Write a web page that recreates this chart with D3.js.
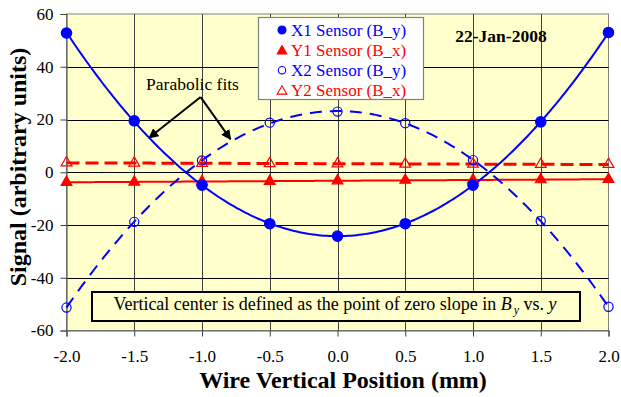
<!DOCTYPE html>
<html>
<head>
<meta charset="utf-8">
<script src="https://cdn.jsdelivr.net/npm/d3@7"></script>
<style>
body { margin: 0; background: #fff; }
text { font-family: "Liberation Serif", "Times New Roman", serif; }
</style>
</head>
<body>
<script>
//Data
var positions = [-2.0, -1.5, -1.0, -0.5, 0.0, 0.5, 1.0, 1.5, 2.0];
var x1Sensor  = [52.8, 19.5, -4.9, -19.5, -24.2, -19.5, -4.9, 19.1, 53.0];
var y1Sensor  = [-3.8, -3.7, -3.5, -3.4, -3.2, -3.0, -2.9, -2.8, -2.7];
var x2Sensor  = [-51.3, -18.8, 4.5, 18.8, 23.0, 18.6, 4.6, -18.5, -51.0];
var y2Sensor  = [3.6, 3.5, 3.4, 3.3, 3.2, 3.1, 3.1, 3.0, 3.0];
var seriesNames = ["X1 Sensor (B_y)", "Y1 Sensor (B_x)", "X2 Sensor (B_y)", "Y2 Sensor (B_x)"];
var xTicks = [-2.0, -1.5, -1.0, -0.5, 0.0, 0.5, 1.0, 1.5, 2.0];
var yTicks = [-60, -40, -20, 0, 20, 40, 60];

//Graphics constants
var width = 621, height = 397;
var plotLeft = 66.5, plotRight = 608.5, plotTop = 14, plotBottom = 330.5;
var blue = "#0000ff", red = "#ff0000", plotFill = "#ffffcc";

var x = d3.scaleLinear().domain([-2, 2]).range([plotLeft, plotRight]);
var y = d3.scaleLinear().domain([-60, 60]).range([plotBottom, plotTop]);

//Least squares polynomial fit (degree 1 or 2), returns the fitted function
function polyFit(xs, ys, deg)
{
    var n = deg + 1;
    var A = [], b = [];
    for (var i = 0; i < n; i++) {
        A.push([]);
        for (var j = 0; j < n; j++)
            A[i].push(d3.sum(xs, function(v) { return Math.pow(v, i + j); }));
        b.push(d3.sum(xs, function(v, k) { return Math.pow(v, i) * ys[k]; }));
    }
    //Gaussian elimination
    for (var c = 0; c < n; c++) {
        for (var r = c + 1; r < n; r++) {
            var f = A[r][c] / A[c][c];
            for (var k = c; k < n; k++) A[r][k] -= f * A[c][k];
            b[r] -= f * b[c];
        }
    }
    var coef = new Array(n);
    for (var r2 = n - 1; r2 >= 0; r2--) {
        var s = b[r2];
        for (var k2 = r2 + 1; k2 < n; k2++) s -= A[r2][k2] * coef[k2];
        coef[r2] = s / A[r2][r2];
    }
    return function(v) {
        var out = 0;
        for (var p = 0; p < n; p++) out += coef[p] * Math.pow(v, p);
        return out;
    };
}

var fitX1 = polyFit(positions, x1Sensor, 2);
var fitX2 = polyFit(positions, x2Sensor, 2);
var fitY1 = polyFit(positions, y1Sensor, 1);
var fitY2 = polyFit(positions, y2Sensor, 1);

var svg = d3.select("body").append("svg")
    .attr("width", width).attr("height", height);

//Plot area
svg.append("rect")
    .attr("x", plotLeft).attr("y", plotTop)
    .attr("width", plotRight - plotLeft).attr("height", plotBottom - plotTop)
    .attr("fill", plotFill).attr("stroke", "#808080").attr("stroke-width", 1);

//Grid
svg.append("g").selectAll("line").data(xTicks.slice(1, -1)).join("line")
    .attr("x1", function(d) { return Math.round(x(d)) + 0.5; })
    .attr("x2", function(d) { return Math.round(x(d)) + 0.5; })
    .attr("y1", plotTop).attr("y2", plotBottom)
    .attr("stroke", "#404040").attr("stroke-width", 1);
svg.append("g").selectAll("line").data(yTicks.slice(1, -1)).join("line")
    .attr("x1", plotLeft).attr("x2", plotRight)
    .attr("y1", function(d) { return Math.round(y(d)) + 0.5; })
    .attr("y2", function(d) { return Math.round(y(d)) + 0.5; })
    .attr("stroke", "#000").attr("stroke-width", 1);

//Axes (hyphen minus like the original)
var fmtX = function(d) { return d3.format(".1f")(d).replace("\u2212", "-"); };
var fmtY = function(d) { return String(d); };
var xAxis = svg.append("g").attr("transform", "translate(0," + plotBottom + ")")
    .call(d3.axisBottom(x).tickValues(xTicks).tickFormat(fmtX).tickSize(6).tickPadding(13));
var yAxis = svg.append("g").attr("transform", "translate(" + plotLeft + ",0)")
    .call(d3.axisLeft(y).tickValues(yTicks).tickFormat(fmtY).tickSize(6).tickPadding(7));
[xAxis, yAxis].forEach(function(a) {
    a.attr("font-family", null);
    a.select(".domain").attr("stroke", "#606060").attr("stroke-width", 1.2);
    a.selectAll(".tick line").attr("stroke", "#404040");
    a.selectAll(".tick text").attr("font-size", 17).attr("fill", "#000");
});

//Fit curves
var fine = d3.range(-2, 2.0001, 0.02);
function fitLine(fn) {
    return d3.line().x(function(d) { return x(d); }).y(function(d) { return y(fn(d)); })(fine);
}
svg.append("path").attr("d", fitLine(fitY1)).attr("fill", "none")
    .attr("stroke", red).attr("stroke-width", 2);
svg.append("path").attr("d", fitLine(fitY2)).attr("fill", "none")
    .attr("stroke", red).attr("stroke-width", 3).attr("stroke-dasharray", "13,6");
svg.append("path").attr("d", fitLine(fitX2)).attr("fill", "none")
    .attr("stroke", blue).attr("stroke-width", 2).attr("stroke-dasharray", "12,8");
svg.append("path").attr("d", fitLine(fitX1)).attr("fill", "none")
    .attr("stroke", blue).attr("stroke-width", 2);

//Markers
var tri = d3.symbol().type(d3.symbolTriangle).size(50);
function markers(vals, kind, color) {
    var g = svg.append("g");
    var pts = positions.map(function(p, i) { return [p, vals[i]]; });
    if (kind == "circle" || kind == "ocircle") {
        g.selectAll("circle").data(pts).join("circle")
            .attr("cx", function(d) { return x(d[0]); })
            .attr("cy", function(d) { return y(d[1]); })
            .attr("r", kind == "circle" ? 5.2 : 4.6)
            .attr("fill", kind == "circle" ? color : "none")
            .attr("stroke", color).attr("stroke-width", 1.2);
    } else {
        g.selectAll("path").data(pts).join("path")
            .attr("d", tri)
            .attr("transform", function(d) { return "translate(" + x(d[0]) + "," + y(d[1]) + ")"; })
            .attr("fill", kind == "tri" ? color : "none")
            .attr("stroke", color).attr("stroke-width", 1.2);
    }
}
markers(y1Sensor, "tri", red);
markers(y2Sensor, "otri", red);
markers(x2Sensor, "ocircle", blue);
markers(x1Sensor, "circle", blue);

//Legend
var lg = svg.append("g");
lg.append("rect").attr("x", 258.5).attr("y", 17.5).attr("width", 165).attr("height", 82)
    .attr("fill", "#fff").attr("stroke", "#808080").attr("stroke-width", 1.2);
var legendKinds = ["circle", "tri", "ocircle", "otri"];
var legendColors = [blue, red, blue, red];
seriesNames.forEach(function(name, i) {
    var cy = 30 + i * 20.1;
    var k = legendKinds[i];
    if (k == "circle" || k == "ocircle")
        lg.append("circle").attr("cx", 282).attr("cy", cy).attr("r", k == "circle" ? 4 : 3.7)
          .attr("fill", k == "circle" ? legendColors[i] : "none")
          .attr("stroke", legendColors[i]).attr("stroke-width", 1.1);
    else
        lg.append("path").attr("d", d3.symbol().type(d3.symbolTriangle).size(40))
          .attr("transform", "translate(282," + (cy + 1) + ")")
          .attr("fill", k == "tri" ? legendColors[i] : "none")
          .attr("stroke", legendColors[i]).attr("stroke-width", 1.1);
    lg.append("text").attr("x", 291).attr("y", cy + 5.5)
      .attr("font-size", 17).attr("fill", legendColors[i]).text(name);
});

//Date
svg.append("text").attr("x", 501).attr("y", 42).attr("text-anchor", "middle")
    .attr("font-size", 17.5).attr("font-weight", "bold").text("22-Jan-2008");

//Parabolic fits annotation, arrows pointing onto the fit curves
svg.append("defs").append("marker").attr("id", "arrow")
    .attr("viewBox", "0 0 10 10").attr("refX", 9).attr("refY", 5)
    .attr("markerWidth", 5).attr("markerHeight", 5).attr("orient", "auto")
    .append("path").attr("d", "M0,0 L10,5 L0,10 z").attr("fill", "#000");
var labelPos = [-1.07, 31.2];
var arrowFrom = [-1.01, 28.5];
var arrowTips = [[-1.39, fitX1(-1.39)], [-0.79, fitX2(-0.79) + 1]];
svg.append("text").attr("x", x(labelPos[0])).attr("y", y(labelPos[1]))
    .attr("text-anchor", "middle").attr("font-size", 17.5).text("Parabolic fits");
arrowTips.forEach(function(t) {
    svg.append("line")
        .attr("x1", x(arrowFrom[0])).attr("y1", y(arrowFrom[1]))
        .attr("x2", x(t[0])).attr("y2", y(t[1]))
        .attr("stroke", "#000").attr("stroke-width", 2).attr("marker-end", "url(#arrow)");
});

//Text box
svg.append("rect").attr("x", 92).attr("y", 292).attr("width", 488).attr("height", 29)
    .attr("fill", plotFill).attr("stroke", "#000").attr("stroke-width", 2);
var note = svg.append("text").attr("x", 335).attr("y", 309.5).attr("text-anchor", "middle")
    .attr("font-size", 18);
note.append("tspan").text("Vertical center is defined as the point of zero slope in ");
note.append("tspan").attr("font-style", "italic").text("B");
note.append("tspan").attr("font-style", "italic").attr("font-size", 12).attr("dy", 4).attr("dx", 2).text("y");
note.append("tspan").attr("dy", -4).text("  vs. ");
note.append("tspan").attr("font-style", "italic").text("y");

//Axis titles
svg.append("text").attr("x", 343).attr("y", 388).attr("text-anchor", "middle")
    .attr("font-size", 24).attr("font-weight", "bold").text("Wire Vertical Position (mm)");
svg.append("text").attr("transform", "translate(26,167) rotate(-90)").attr("text-anchor", "middle")
    .attr("font-size", 24).attr("font-weight", "bold").text("Signal (arbitrary units)");
</script>
</body>
</html>
